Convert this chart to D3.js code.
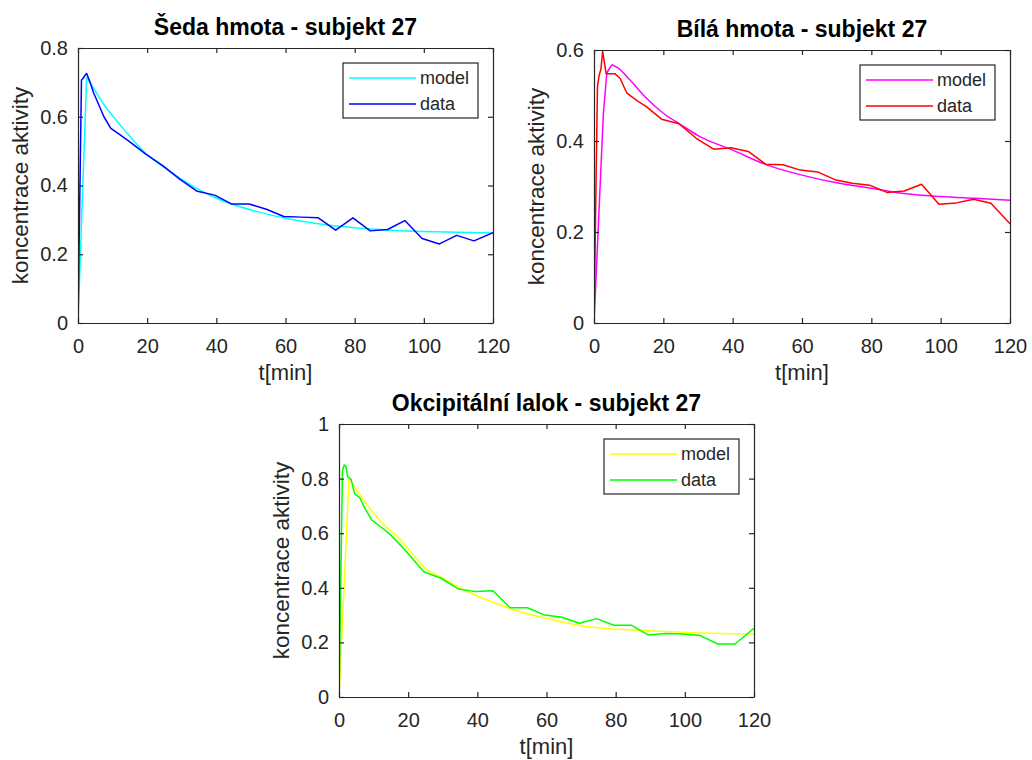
<!DOCTYPE html>
<html>
<head>
<meta charset="utf-8">
<script src="https://cdn.jsdelivr.net/npm/d3@7"></script>
<style>
  body { margin: 0; background: #fff; }
  svg { display: block; font-family: "Liberation Sans", Arial, sans-serif; }
  .axis path, .axis line { stroke: #262626; stroke-width: 1.2; }
  .axis text { fill: #262626; font-size: 20px; }
</style>
</head>
<body>
<script>
// frame mid-times (min) shared by the measured curves
var frameTimes = [0, 1, 1.5, 2, 2.5, 3.5, 4.5, 6, 7.5, 9.5, 12.5, 15, 19.5, 24.5, 29.5, 34.5, 39.5, 44.5,
                  49.5, 54.5, 59.5, 64.5, 69.5, 74.5, 79.5, 84.5, 89.5, 94.5, 99.5, 104.5, 109.5, 114.5, 120];

// seda hmota (grey matter)
var grayData = [0, 0.707, 0.712, 0.72, 0.726, 0.70, 0.670, 0.635, 0.600, 0.566, 0.545, 0.527, 0.492, 0.458,
                0.418, 0.383, 0.372, 0.346, 0.346, 0.331, 0.310, 0.308, 0.306, 0.270, 0.306, 0.268, 0.272,
                0.298, 0.246, 0.230, 0.255, 0.239, 0.263];
var grayModelT = [0, 2.5, 5, 7.5, 10, 12.5, 15, 20, 25, 30, 35, 40, 45, 50, 55, 60, 70, 80, 90, 100, 110, 120];
var grayModel = [0, 0.715, 0.675, 0.635, 0.603, 0.572, 0.543, 0.490, 0.452, 0.418, 0.388, 0.363, 0.344,
                 0.329, 0.316, 0.305, 0.288, 0.277, 0.270, 0.266, 0.264, 0.262];

// bila hmota (white matter)
var whiteData = [0, 0.52, 0.545, 0.558, 0.597, 0.548, 0.548, 0.548, 0.538, 0.505, 0.488, 0.476, 0.448, 0.438,
                 0.406, 0.382, 0.385, 0.377, 0.349, 0.348, 0.336, 0.332, 0.315, 0.307, 0.303, 0.287, 0.290,
                 0.305, 0.261, 0.264, 0.272, 0.263, 0.218];
var whiteModelT = [0, 2.7, 3.7, 5.2, 7, 10.4, 15, 20, 25, 30, 40, 50, 60, 70, 80, 90, 100, 110, 120];
var whiteModel = [0, 0.46, 0.55, 0.568, 0.560, 0.534, 0.495, 0.461, 0.436, 0.412, 0.380, 0.347, 0.325,
                  0.308, 0.296, 0.284, 0.278, 0.274, 0.270];

// okcipitalni lalok (occipital lobe)
var occData = [0, 0.83, 0.85, 0.845, 0.807, 0.797, 0.745, 0.730, 0.691, 0.648, 0.619, 0.593, 0.533, 0.459,
               0.435, 0.396, 0.386, 0.389, 0.327, 0.327, 0.300, 0.292, 0.270, 0.287, 0.263, 0.263, 0.227,
               0.233, 0.231, 0.225, 0.194, 0.194, 0.252];
var occModelT = [0, 2.9, 5, 7.5, 10, 13, 17, 21, 25, 30, 35, 40, 45, 52, 62, 72, 81, 91, 100, 110, 120];
var occModel = [0, 0.80, 0.76, 0.715, 0.673, 0.63, 0.587, 0.527, 0.471, 0.435, 0.40, 0.37, 0.345, 0.313,
                0.282, 0.257, 0.248, 0.242, 0.236, 0.233, 0.231];

var xTicks = [0, 20, 40, 60, 80, 100, 120];
var legendLabels = ["model", "data"];

var panels = [
  { title: "Šeda hmota - subjekt 27", box: [78, 48, 493, 323], yMax: 0.8,
    yTicks: [0, 0.2, 0.4, 0.6, 0.8], modelT: grayModelT, model: grayModel, data: grayData,
    colors: ["#00ffff", "#0000ff"] },
  { title: "Bílá hmota - subjekt 27", box: [594, 50, 1010, 323], yMax: 0.6,
    yTicks: [0, 0.2, 0.4, 0.6], modelT: whiteModelT, model: whiteModel, data: whiteData,
    colors: ["#ff00ff", "#ff0000"] },
  { title: "Okcipitální lalok - subjekt 27", box: [339, 424, 754, 697], yMax: 1,
    yTicks: [0, 0.2, 0.4, 0.6, 0.8, 1], modelT: occModelT, model: occModel, data: occData,
    colors: ["#ffff00", "#00ff00"] }
];

var svg = d3.select("body").append("svg")
    .attr("width", 1032)
    .attr("height", 760);

var fmt = d3.format("~g");

panels.forEach(function(p, i) {
  var l = p.box[0], t = p.box[1], r = p.box[2], b = p.box[3];
  var x = d3.scaleLinear().domain([0, 120]).range([l, r]);
  var y = d3.scaleLinear().domain([0, p.yMax]).range([b, t]);
  var g = svg.append("g");

  g.append("clipPath").attr("id", "clip" + i)
    .append("rect").attr("x", l).attr("y", t).attr("width", r - l).attr("height", b - t);

  // curves
  var line = d3.line()
      .x(function(d) { return x(d[0]); })
      .y(function(d) { return y(d[1]); });
  var modelPts = p.modelT.map(function(tt, k) { return [tt, p.model[k]]; });
  var dataPts = frameTimes.map(function(tt, k) { return [tt, p.data[k]]; });
  var peak = d3.maxIndex(p.model);

  // model: straight rise up to the peak, smooth decay after it
  g.append("path")
    .datum(modelPts.slice(0, peak + 1))
    .attr("clip-path", "url(#clip" + i + ")")
    .attr("fill", "none").attr("stroke", p.colors[0]).attr("stroke-width", 1.5)
    .attr("stroke-linejoin", "round")
    .attr("d", line.curve(d3.curveLinear));
  g.append("path")
    .datum(modelPts.slice(peak))
    .attr("clip-path", "url(#clip" + i + ")")
    .attr("fill", "none").attr("stroke", p.colors[0]).attr("stroke-width", 1.5)
    .attr("d", line.curve(d3.curveMonotoneX));
  g.append("path")
    .datum(dataPts)
    .attr("clip-path", "url(#clip" + i + ")")
    .attr("fill", "none").attr("stroke", p.colors[1]).attr("stroke-width", 1.5)
    .attr("stroke-linejoin", "round")
    .attr("d", line.curve(d3.curveLinear));

  // axes, ticks inside, full box
  g.append("g").attr("class", "axis")
    .attr("transform", "translate(0," + b + ")")
    .call(d3.axisBottom(x).tickValues(xTicks).tickSize(-5).tickSizeOuter(0).tickPadding(16));
  g.append("g").attr("class", "axis")
    .attr("transform", "translate(0," + t + ")")
    .call(d3.axisTop(x).tickValues(xTicks).tickSize(-5).tickSizeOuter(0).tickFormat(""));
  g.append("g").attr("class", "axis")
    .attr("transform", "translate(" + l + ",0)")
    .call(d3.axisLeft(y).tickValues(p.yTicks).tickSize(-5).tickSizeOuter(0).tickPadding(10).tickFormat(fmt));
  g.append("g").attr("class", "axis")
    .attr("transform", "translate(" + r + ",0)")
    .call(d3.axisRight(y).tickValues(p.yTicks).tickSize(-5).tickSizeOuter(0).tickFormat(""));

  // title and labels
  g.append("text")
    .attr("x", (l + r) / 2).attr("y", t - 13)
    .attr("text-anchor", "middle")
    .attr("font-size", 23).attr("font-weight", "bold").attr("fill", "#000")
    .text(p.title);
  g.append("text")
    .attr("x", (l + r) / 2).attr("y", b + 57)
    .attr("text-anchor", "middle")
    .attr("font-size", 22).attr("fill", "#262626")
    .text("t[min]");
  g.append("text")
    .attr("transform", "translate(" + (l - 58) + "," + ((t + b) / 2) + ") rotate(-90)")
    .attr("text-anchor", "middle").attr("dy", "0.35em")
    .attr("font-size", 22.5).attr("fill", "#262626")
    .text("koncentrace aktivity");

  // legend
  var bx = r - 15 - 135, by = t + 15;
  var lg = g.append("g").attr("transform", "translate(" + bx + "," + by + ")");
  lg.append("rect").attr("width", 135).attr("height", 55)
    .attr("fill", "#fff").attr("stroke", "#262626").attr("stroke-width", 1.2);
  legendLabels.forEach(function(lab, k) {
    var ly = 15 + k * 26;
    lg.append("line").attr("x1", 6).attr("x2", 73).attr("y1", ly).attr("y2", ly)
      .attr("stroke", p.colors[k]).attr("stroke-width", 1.5);
    lg.append("text").attr("x", 77).attr("y", ly).attr("dy", "0.35em")
      .attr("font-size", 18).attr("fill", "#262626")
      .text(lab);
  });
});
</script>
</body>
</html>
